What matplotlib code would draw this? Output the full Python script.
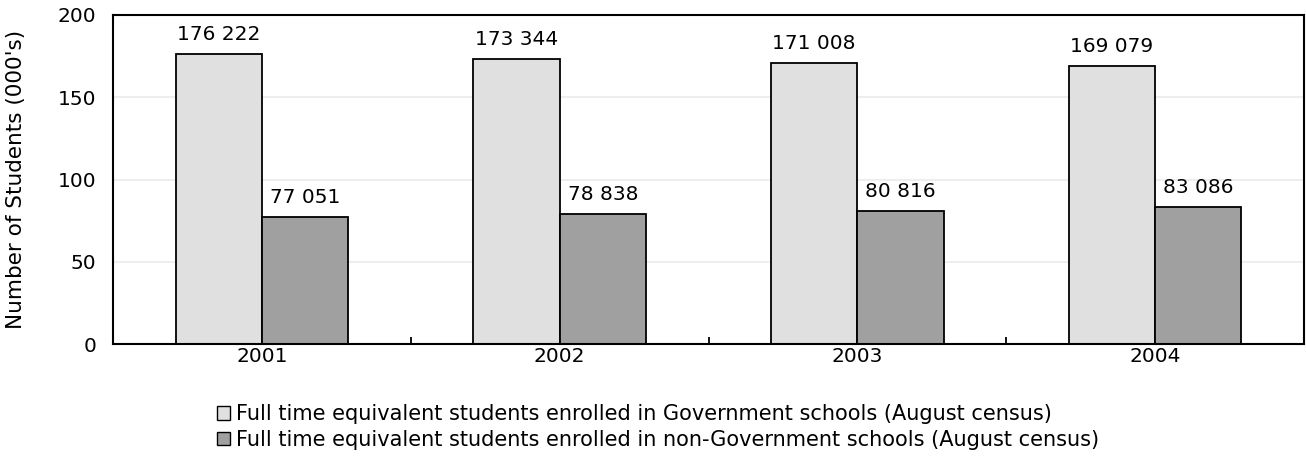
import numpy as np
import matplotlib
matplotlib.use("Agg")
import matplotlib.pyplot as plt
from matplotlib.patches import Patch

# data
years = ["2001", "2002", "2003", "2004"]
government = [176222, 173344, 171008, 169079]
non_government = [77051, 78838, 80816, 83086]
labels = ["Full time equivalent students enrolled in Government schools (August census)",
          "Full time equivalent students enrolled in non-Government schools (August census)"]

plt.rcParams['font.family'] = ['DejaVu Sans']
plt.rcParams['font.size'] = 14.5

fig = plt.figure(figsize=(13.06, 4.66), dpi=100)
ax = fig.add_axes([113/1306, 1-344/466, (1304-113)/1306, (344-15)/466])

x = np.arange(len(years))
w = 0.29
gov = np.array(government) / 1000
non = np.array(non_government) / 1000
ax.bar(x - w/2, gov, w, color="#e0e0e0", edgecolor="black", linewidth=1.3)
ax.bar(x + w/2, non, w, color="#a0a0a0", edgecolor="black", linewidth=1.3)

def fmt(v):
    return "{:,}".format(v).replace(",", " ")

# value labels above the bars
for i in range(len(years)):
    ax.text(x[i] - w/2, gov[i] + 6, fmt(government[i]), ha="center", va="bottom")
    ax.text(x[i] + w/2, non[i] + 6, fmt(non_government[i]), ha="center", va="bottom")

ax.set_xlim(-0.5, len(years) - 0.5)
ax.set_ylim(0, 200)
ax.set_yticks([0, 50, 100, 150, 200])
ax.yaxis.grid(True, color="#eeeeee", linewidth=1.5)
ax.set_axisbelow(True)
ax.set_xticks(x)
ax.set_xticklabels(years)
ax.tick_params(axis="x", length=0, pad=2)
ax.set_xticks(np.arange(0.5, len(years) - 0.5), minor=True)
ax.tick_params(axis="x", which="minor", direction="in", length=5, width=1.3)
ax.tick_params(axis="y", direction="in", length=0, pad=12)
for s in ax.spines.values():
    s.set_linewidth(1.5)
ax.set_ylabel("Number of Students (000's)", fontsize=15.5)
ax.yaxis.set_label_coords(-(113-26)/1191, 0.5)

handles = [Patch(facecolor="#e0e0e0", edgecolor="black", linewidth=1),
           Patch(facecolor="#a0a0a0", edgecolor="black", linewidth=1)]
fig.legend(handles, labels, loc="center", bbox_to_anchor=(658/1306, 1-427/466),
           frameon=False, handlelength=0.6, handleheight=0.6, handletextpad=0.3,
           labelspacing=0.25, fontsize=15)

fig.savefig("out.png", dpi=100)
